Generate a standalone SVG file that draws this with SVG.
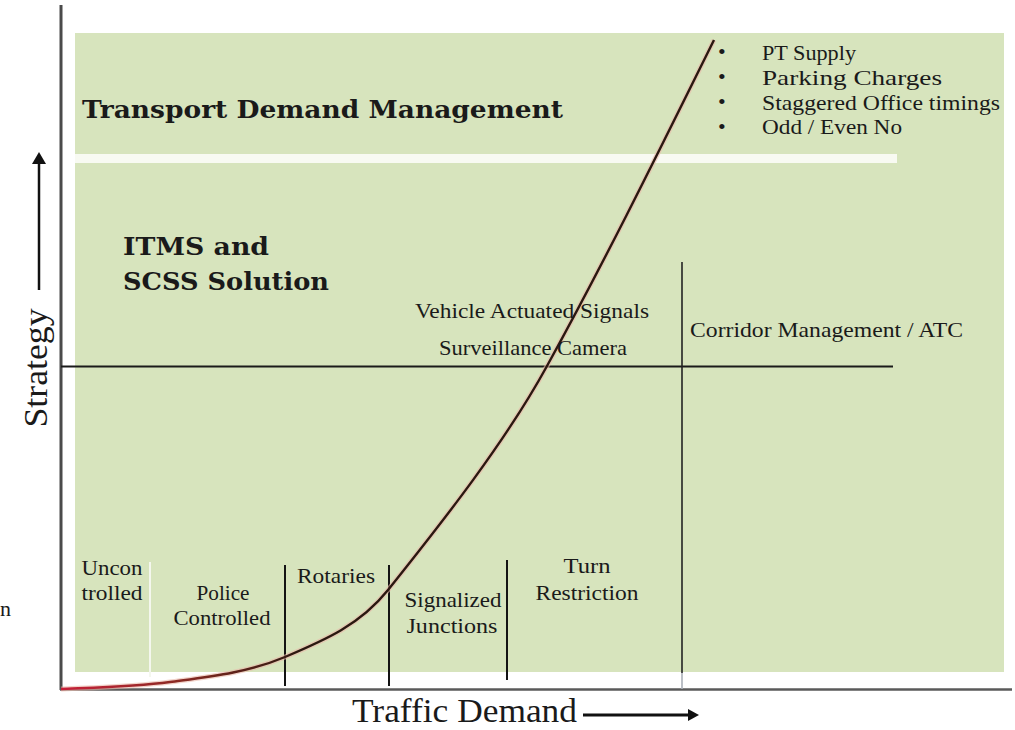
<svg xmlns="http://www.w3.org/2000/svg" width="1015" height="730" viewBox="0 0 1015 730">
<style>
.t{font-family:"Liberation Serif","Times New Roman",serif;font-size:22px;fill:#1a1a1a}
.b{font-family:"DejaVu Serif","Liberation Serif",serif;font-weight:bold;font-size:25px;fill:#1a1a1a}
.ax{font-family:"Liberation Serif","Times New Roman",serif;font-size:33px;fill:#1a1a1a}
.div{stroke:#141414;stroke-width:2;fill:none}
.crv{fill:none}
</style>
<defs>
<linearGradient id="cg" gradientUnits="userSpaceOnUse" x1="61" y1="0" x2="300" y2="0">
<stop offset="0" stop-color="#c8203a"/>
<stop offset="0.5" stop-color="#8a2a22"/>
<stop offset="1" stop-color="#2a1810"/>
</linearGradient>
<path id="cp" d="M61,689 C79,688 133,687 170,682 C207,677 247,673 285,657 C325,640 360,625 388,590 C444,520 506,441 547,366 C607,257 660,149 714,40"/>
</defs>
<rect width="1015" height="730" fill="#ffffff"/>
<g id="background">
<rect x="75" y="33" width="929" height="639" fill="#d7e4bd"/>
<rect x="75" y="154" width="822" height="9" fill="#f8faf2"/>
</g>
<g id="axes">
<line x1="61" y1="5" x2="61" y2="690" stroke="#4a4a4a" stroke-width="3"/>
<line x1="60" y1="689.5" x2="1012" y2="689.5" stroke="#5a5a5a" stroke-width="2.5"/>
</g>
<g id="connectors">
<line x1="61" y1="366.5" x2="893" y2="366.5" stroke="#1a1a1a" stroke-width="2"/>
<line x1="682" y1="262" x2="682" y2="673" stroke="#222" stroke-width="1.6"/>
<line x1="682" y1="673" x2="682" y2="689" stroke="#aab0b8" stroke-width="1.6"/>
<line x1="150" y1="562" x2="150" y2="677" stroke="#f4f7ee" stroke-width="2"/>
<line class="div" x1="285" y1="565" x2="285" y2="686"/>
<line class="div" x1="389" y1="565" x2="389" y2="686"/>
<line class="div" x1="507" y1="560" x2="507" y2="680"/>
<line x1="39" y1="290" x2="39" y2="162" stroke="#111" stroke-width="2.5"/>
<polygon points="32,164 39,152 46,164" fill="#111"/>
<line x1="583" y1="715" x2="690" y2="715" stroke="#111" stroke-width="3"/>
<polygon points="688,709 699,715 688,721" fill="#111"/>
</g>
<g id="curve">
<use href="#cp" class="crv" stroke="#eab8a8" stroke-width="5" stroke-opacity="0.6"/>
<use href="#cp" class="crv" stroke="url(#cg)" stroke-width="2.4"/>
</g>
<g id="tdm">
<text class="b" x="82" y="118" textLength="481" lengthAdjust="spacingAndGlyphs">Transport Demand Management</text>
</g>
<g id="tdm-list">
<text class="t" x="718" y="59" font-size="16">•</text>
<text class="t" x="718" y="84" font-size="16">•</text>
<text class="t" x="718" y="109" font-size="16">•</text>
<text class="t" x="718" y="134" font-size="16">•</text>
<text class="t" x="762" y="60" textLength="94" lengthAdjust="spacingAndGlyphs">PT Supply</text>
<text class="t" x="762" y="85" textLength="180" lengthAdjust="spacingAndGlyphs">Parking Charges</text>
<text class="t" x="762" y="110" textLength="238" lengthAdjust="spacingAndGlyphs">Staggered Office timings</text>
<text class="t" x="762" y="134" textLength="140" lengthAdjust="spacingAndGlyphs">Odd / Even No</text>
</g>
<g id="itms">
<text class="b" x="123" y="255" textLength="146" lengthAdjust="spacingAndGlyphs">ITMS and</text>
<text class="b" x="123" y="290" textLength="206" lengthAdjust="spacingAndGlyphs">SCSS Solution</text>
</g>
<g id="vas">
<text class="t" x="532" y="318" text-anchor="middle" textLength="234" lengthAdjust="spacingAndGlyphs">Vehicle Actuated Signals</text>
<text class="t" x="533" y="355" text-anchor="middle" textLength="188" lengthAdjust="spacingAndGlyphs">Surveillance Camera</text>
</g>
<g id="corridor">
<text class="t" x="690" y="337" textLength="273" lengthAdjust="spacingAndGlyphs">Corridor Management / ATC</text>
</g>
<g id="uncontrolled">
<text class="t" x="112" y="575" text-anchor="middle" textLength="61" lengthAdjust="spacingAndGlyphs">Uncon</text>
<text class="t" x="112" y="600" text-anchor="middle" textLength="61" lengthAdjust="spacingAndGlyphs">trolled</text>
</g>
<g id="police">
<text class="t" x="223" y="600" text-anchor="middle" textLength="53" lengthAdjust="spacingAndGlyphs">Police</text>
<text class="t" x="222" y="625" text-anchor="middle" textLength="97" lengthAdjust="spacingAndGlyphs">Controlled</text>
</g>
<g id="rotaries">
<text class="t" x="336" y="583" text-anchor="middle" textLength="78" lengthAdjust="spacingAndGlyphs">Rotaries</text>
</g>
<g id="signalized">
<text class="t" x="453" y="607" text-anchor="middle" textLength="97" lengthAdjust="spacingAndGlyphs">Signalized</text>
<text class="t" x="452" y="633" text-anchor="middle" textLength="91" lengthAdjust="spacingAndGlyphs">Junctions</text>
</g>
<g id="turn">
<text class="t" x="587" y="573" text-anchor="middle" textLength="47" lengthAdjust="spacingAndGlyphs">Turn</text>
<text class="t" x="587" y="600" text-anchor="middle" textLength="103" lengthAdjust="spacingAndGlyphs">Restriction</text>
</g>
<g id="axis-labels">
<text class="ax" x="352" y="722" textLength="225" lengthAdjust="spacingAndGlyphs">Traffic Demand</text>
<text class="ax" transform="translate(47,368) rotate(-90)" text-anchor="middle" textLength="119" lengthAdjust="spacingAndGlyphs">Strategy</text>
<text class="t" x="0" y="616" font-size="22">n</text>
</g>
</svg>
